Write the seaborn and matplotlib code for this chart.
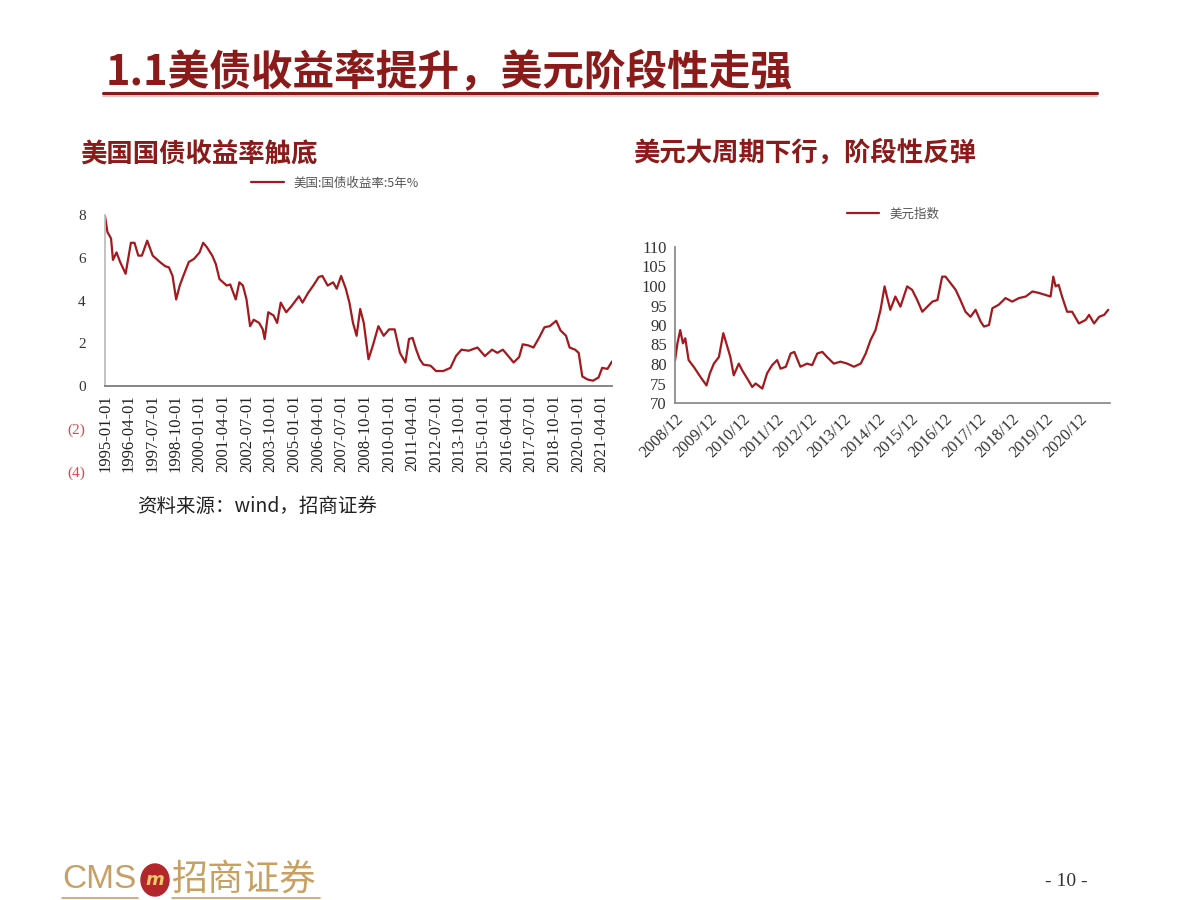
import pandas as pd
import matplotlib
matplotlib.use('Agg')
import matplotlib.pyplot as plt
import matplotlib.dates as mdates
from matplotlib.lines import Line2D
from matplotlib.patches import Ellipse
from matplotlib.ticker import FuncFormatter
import seaborn as sns

# 美国5年国债收益率（年份小数，%）- 从图上估读
yield_t = [1995.00, 1995.13, 1995.32, 1995.42, 1995.61, 1995.80, 1996.09, 1996.37, 1996.56, 1996.76,
           1996.95, 1997.23, 1997.52, 1997.90, 1998.19, 1998.38, 1998.57, 1998.76, 1998.95, 1999.14,
           1999.43, 1999.71, 2000.00, 2000.19, 2000.38, 2000.67, 2000.86, 2001.05, 2001.24, 2001.43,
           2001.62, 2001.91, 2002.10, 2002.29, 2002.48, 2002.67, 2002.86, 2003.15, 2003.34, 2003.44,
           2003.63, 2003.91, 2004.10, 2004.29, 2004.58, 2004.87, 2005.25, 2005.44, 2005.73, 2006.01,
           2006.30, 2006.49, 2006.77, 2007.06, 2007.25, 2007.48, 2007.73, 2007.92, 2008.11, 2008.30,
           2008.49, 2008.68, 2008.93, 2009.16, 2009.45, 2009.73, 2010.02, 2010.31, 2010.59, 2010.88,
           2011.07, 2011.26, 2011.45, 2011.64, 2011.83, 2012.21, 2012.50, 2012.88, 2013.26, 2013.55,
           2013.84, 2014.22, 2014.69, 2015.08, 2015.46, 2015.74, 2016.03, 2016.32, 2016.60, 2016.89,
           2017.08, 2017.37, 2017.65, 2017.94, 2018.23, 2018.51, 2018.85, 2019.08, 2019.37, 2019.56,
           2019.85, 2020.04, 2020.23, 2020.52, 2020.80, 2021.09, 2021.28, 2021.56, 2021.80]
yield_v = [7.95, 7.2, 6.9, 5.9, 6.25, 5.8, 5.25, 6.7, 6.7, 6.1,
           6.1, 6.8, 6.1, 5.8, 5.6, 5.55, 5.15, 4.05, 4.7, 5.15,
           5.8, 5.95, 6.25, 6.7, 6.5, 6.1, 5.7, 5.0, 4.85, 4.7,
           4.75, 4.05, 4.85, 4.7, 4.05, 2.8, 3.1, 2.95, 2.65, 2.2,
           3.45, 3.3, 2.95, 3.9, 3.45, 3.75, 4.2, 3.9, 4.35, 4.7,
           5.1, 5.15, 4.7, 4.85, 4.55, 5.15, 4.55, 3.9, 2.95, 2.35,
           3.6, 2.95, 1.25, 1.9, 2.8, 2.35, 2.65, 2.65, 1.55, 1.1,
           2.2, 2.25, 1.7, 1.25, 1.0, 0.95, 0.7, 0.7, 0.85, 1.4,
           1.7, 1.65, 1.8, 1.4, 1.7, 1.55, 1.7, 1.4, 1.1, 1.35,
           1.95, 1.9, 1.8, 2.25, 2.75, 2.8, 3.05, 2.6, 2.35, 1.8,
           1.7, 1.55, 0.45, 0.3, 0.25, 0.4, 0.85, 0.8, 1.15]

# 美元指数
dxy_t = [2008.92, 2008.99, 2009.07, 2009.15, 2009.22, 2009.32, 2009.47, 2009.67, 2009.85, 2009.95,
         2010.07, 2010.22, 2010.35, 2010.44, 2010.56, 2010.66, 2010.81, 2010.91, 2011.06, 2011.21,
         2011.31, 2011.51, 2011.65, 2011.80, 2011.95, 2012.05, 2012.21, 2012.35, 2012.46, 2012.64,
         2012.84, 2012.99, 2013.14, 2013.29, 2013.43, 2013.63, 2013.83, 2014.03, 2014.23, 2014.43,
         2014.58, 2014.72, 2014.87, 2015.02, 2015.14, 2015.21, 2015.31, 2015.46, 2015.61, 2015.81,
         2015.96, 2016.11, 2016.26, 2016.41, 2016.56, 2016.71, 2016.85, 2016.95, 2017.10, 2017.25,
         2017.39, 2017.54, 2017.69, 2017.84, 2017.99, 2018.09, 2018.24, 2018.34, 2018.53, 2018.73,
         2018.93, 2019.13, 2019.33, 2019.53, 2019.73, 2019.92, 2020.07, 2020.15, 2020.22, 2020.31,
         2020.41, 2020.56, 2020.71, 2020.91, 2021.11, 2021.21, 2021.36, 2021.51, 2021.66, 2021.78]
dxy_v = [81.0, 85.3, 88.7, 85.3, 86.6, 81.0, 79.3, 76.7, 74.5, 77.6,
         80.1, 81.8, 87.9, 85.3, 81.8, 77.1, 80.1, 78.4, 76.3, 74.1,
         75.0, 73.7, 77.6, 79.7, 81.0, 78.8, 79.3, 82.7, 83.1, 79.3,
         80.1, 79.7, 82.7, 83.1, 81.8, 80.1, 80.6, 80.1, 79.3, 80.1,
         82.7, 86.1, 88.7, 93.9, 99.9, 97.3, 93.9, 97.3, 94.7, 99.9,
         99.0, 96.4, 93.4, 94.7, 96.0, 96.4, 102.4, 102.4, 100.7, 99.0,
         96.4, 93.4, 92.1, 93.9, 90.9, 89.6, 90.0, 94.3, 95.2, 96.9,
         96.0, 96.9, 97.3, 98.6, 98.2, 97.7, 97.3, 102.4, 99.9, 100.3,
         97.3, 93.4, 93.4, 90.4, 91.3, 92.6, 90.4, 92.1, 92.6, 93.9]

left_ticks = ['1995-01-01', '1996-04-01', '1997-07-01', '1998-10-01', '2000-01-01', '2001-04-01',
              '2002-07-01', '2003-10-01', '2005-01-01', '2006-04-01', '2007-07-01', '2008-10-01',
              '2010-01-01', '2011-04-01', '2012-07-01', '2013-10-01', '2015-01-01', '2016-04-01',
              '2017-07-01', '2018-10-01', '2020-01-01', '2021-04-01']
right_ticks = ['2008-12-01', '2009-12-01', '2010-12-01', '2011-12-01', '2012-12-01', '2013-12-01',
               '2014-12-01', '2015-12-01', '2016-12-01', '2017-12-01', '2018-12-01', '2019-12-01',
               '2020-12-01']


def to_dates(years):
    out = []
    for y in years:
        yi = int(y)
        out.append(pd.Timestamp(yi, 1, 1) + pd.Timedelta(days=(y - yi) * 365.25))
    return out


sns.set_theme(style='white')
plt.rcParams['font.family'] = ['Liberation Serif', 'Noto Sans CJK SC']
CJK = ['Noto Sans CJK SC', 'DejaVu Sans']
RED = '#A3191E'
DARK = '#8B1A1A'

fig = plt.figure(figsize=(12, 9), dpi=100)
fig.patch.set_facecolor('white')


def fx(px):
    return px / 1200


def fy(py):
    return 1 - py / 900


# 页面标题
fig.text(fx(106), fy(72), '1.1美债收益率提升，美元阶段性走强', family=CJK, fontsize=30,
         fontweight='bold', color=DARK, va='center', ha='left')
fig.add_artist(Line2D([fx(103), fx(1097)], [fy(93), fy(93)], color=DARK, lw=2.2,
                      transform=fig.transFigure))
fig.add_artist(Line2D([fx(103), fx(1097)], [fy(95.5), fy(95.5)], color='#E6B8B8', lw=1.2,
                      transform=fig.transFigure))

fig.text(fx(80), fy(155), '美国国债收益率触底', family=CJK, fontsize=19, fontweight='bold',
         color=DARK, va='center', ha='left')
fig.text(fx(633), fy(153), '美元大周期下行，阶段性反弹', family=CJK, fontsize=19, fontweight='bold',
         color=DARK, va='center', ha='left')

# 左图：美国国债收益率
ax1 = fig.add_axes([fx(105), fy(471.5), fx(612) - fx(105), fy(215) - fy(471.5)])
sns.lineplot(x=to_dates(yield_t), y=yield_v, ax=ax1, color=RED, lw=1.6,
             label='美国:国债收益率:5年%')
ax1.set_ylim(-4, 8)
ax1.set_xlim(pd.Timestamp('1995-01-01'), pd.Timestamp('2021-10-20'))
ax1.set_yticks([-4, -2, 0, 2, 4, 6, 8])
ax1.yaxis.set_major_formatter(FuncFormatter(lambda v, p: f'({abs(int(v))})' if v < 0 else f'{int(v)}'))
ax1.set_xticks([pd.Timestamp(d) for d in left_ticks])
ax1.xaxis.set_major_formatter(mdates.DateFormatter('%Y-%m-%d'))
for s in ['top', 'right']:
    ax1.spines[s].set_visible(False)
ax1.spines['bottom'].set_position(('data', 0))
ax1.spines['bottom'].set_color('#777777')
ax1.spines['left'].set_bounds(0, 8)
ax1.spines['left'].set_color('#BBBBBB')
ax1.tick_params(axis='x', direction='out', length=4, color='#777777', labelsize=12,
                labelcolor='#222222', rotation=90, pad=2)
ax1.tick_params(axis='y', direction='in', length=4, color='#BBBBBB', labelsize=11,
                labelcolor='#333333', pad=14)
for t, lab in zip(ax1.yaxis.get_major_ticks(), ax1.get_yticklabels()):
    if t.get_loc() < 0:
        t.tick1line.set_visible(False)
        lab.set_color('#E0474C')
ax1.set_xlabel('')
ax1.set_ylabel('')
ax1.legend(loc='center', bbox_to_anchor=(fx(335), fy(183)), bbox_transform=fig.transFigure,
           frameon=False, handlelength=2.6, prop={'family': CJK, 'size': 9}, labelcolor='#555555')
ax1.set_facecolor('white')

fig.text(fx(137), fy(506), '资料来源：wind，招商证券', family=CJK, fontsize=14, color='#222222',
         va='center', ha='left')

# 右图：美元指数
ax2 = fig.add_axes([fx(675), fy(403), fx(1110) - fx(675), fy(247) - fy(403)])
sns.lineplot(x=to_dates(dxy_t), y=dxy_v, ax=ax2, color=RED, lw=1.6, label='美元指数')
ax2.set_ylim(70, 110)
ax2.set_yticks(range(70, 111, 5))
ax2.set_xlim(pd.Timestamp('2008-12-01'), pd.Timestamp('2021-11-01'))
ax2.set_xticks([pd.Timestamp(d) for d in right_ticks])
ax2.xaxis.set_major_formatter(mdates.DateFormatter('%Y/%m'))
for s in ['top', 'right']:
    ax2.spines[s].set_visible(False)
for s in ['left', 'bottom']:
    ax2.spines[s].set_color('#888888')
ax2.tick_params(axis='y', direction='in', length=4, color='#888888', labelsize=12,
                labelcolor='#333333', pad=6)
ax2.tick_params(axis='x', direction='out', length=4, color='#888888', labelsize=12,
                labelcolor='#333333', pad=2)
for lab in ax2.get_xticklabels():
    lab.set_rotation(45)
    lab.set_ha('right')
    lab.set_rotation_mode('anchor')
ax2.set_xlabel('')
ax2.set_ylabel('')
ax2.legend(loc='center', bbox_to_anchor=(fx(893), fy(214)), bbox_transform=fig.transFigure,
           frameon=False, handlelength=2.6, prop={'family': CJK, 'size': 9}, labelcolor='#555555')
ax2.set_facecolor('white')

# 页脚
TAN = '#C9A063'
fig.text(fx(62), fy(880), 'CMS', family=['Liberation Sans'], fontsize=24,
         color=TAN, va='center', ha='left')
fig.add_artist(Ellipse((fx(155), fy(880)), fx(28), 32 / 900, transform=fig.transFigure,
                       color='#B3262B'))
fig.text(fx(155), fy(880), 'm', family=['DejaVu Sans'], fontsize=13, fontweight='bold',
         style='italic', color='#F2C66D', va='center', ha='center')
fig.text(fx(172), fy(880), '招商证券', family=CJK, fontsize=26, color=TAN, va='center', ha='left')
fig.add_artist(Line2D([fx(62), fx(138)], [fy(898), fy(898)], color=TAN, lw=1.2,
                      transform=fig.transFigure))
fig.add_artist(Line2D([fx(172), fx(320)], [fy(898), fy(898)], color=TAN, lw=1.2,
                      transform=fig.transFigure))
fig.text(fx(1066), fy(881), '- 10 -', fontsize=14, color='#333333', va='center', ha='center')

fig.savefig('out.png', dpi=100, facecolor='white')
